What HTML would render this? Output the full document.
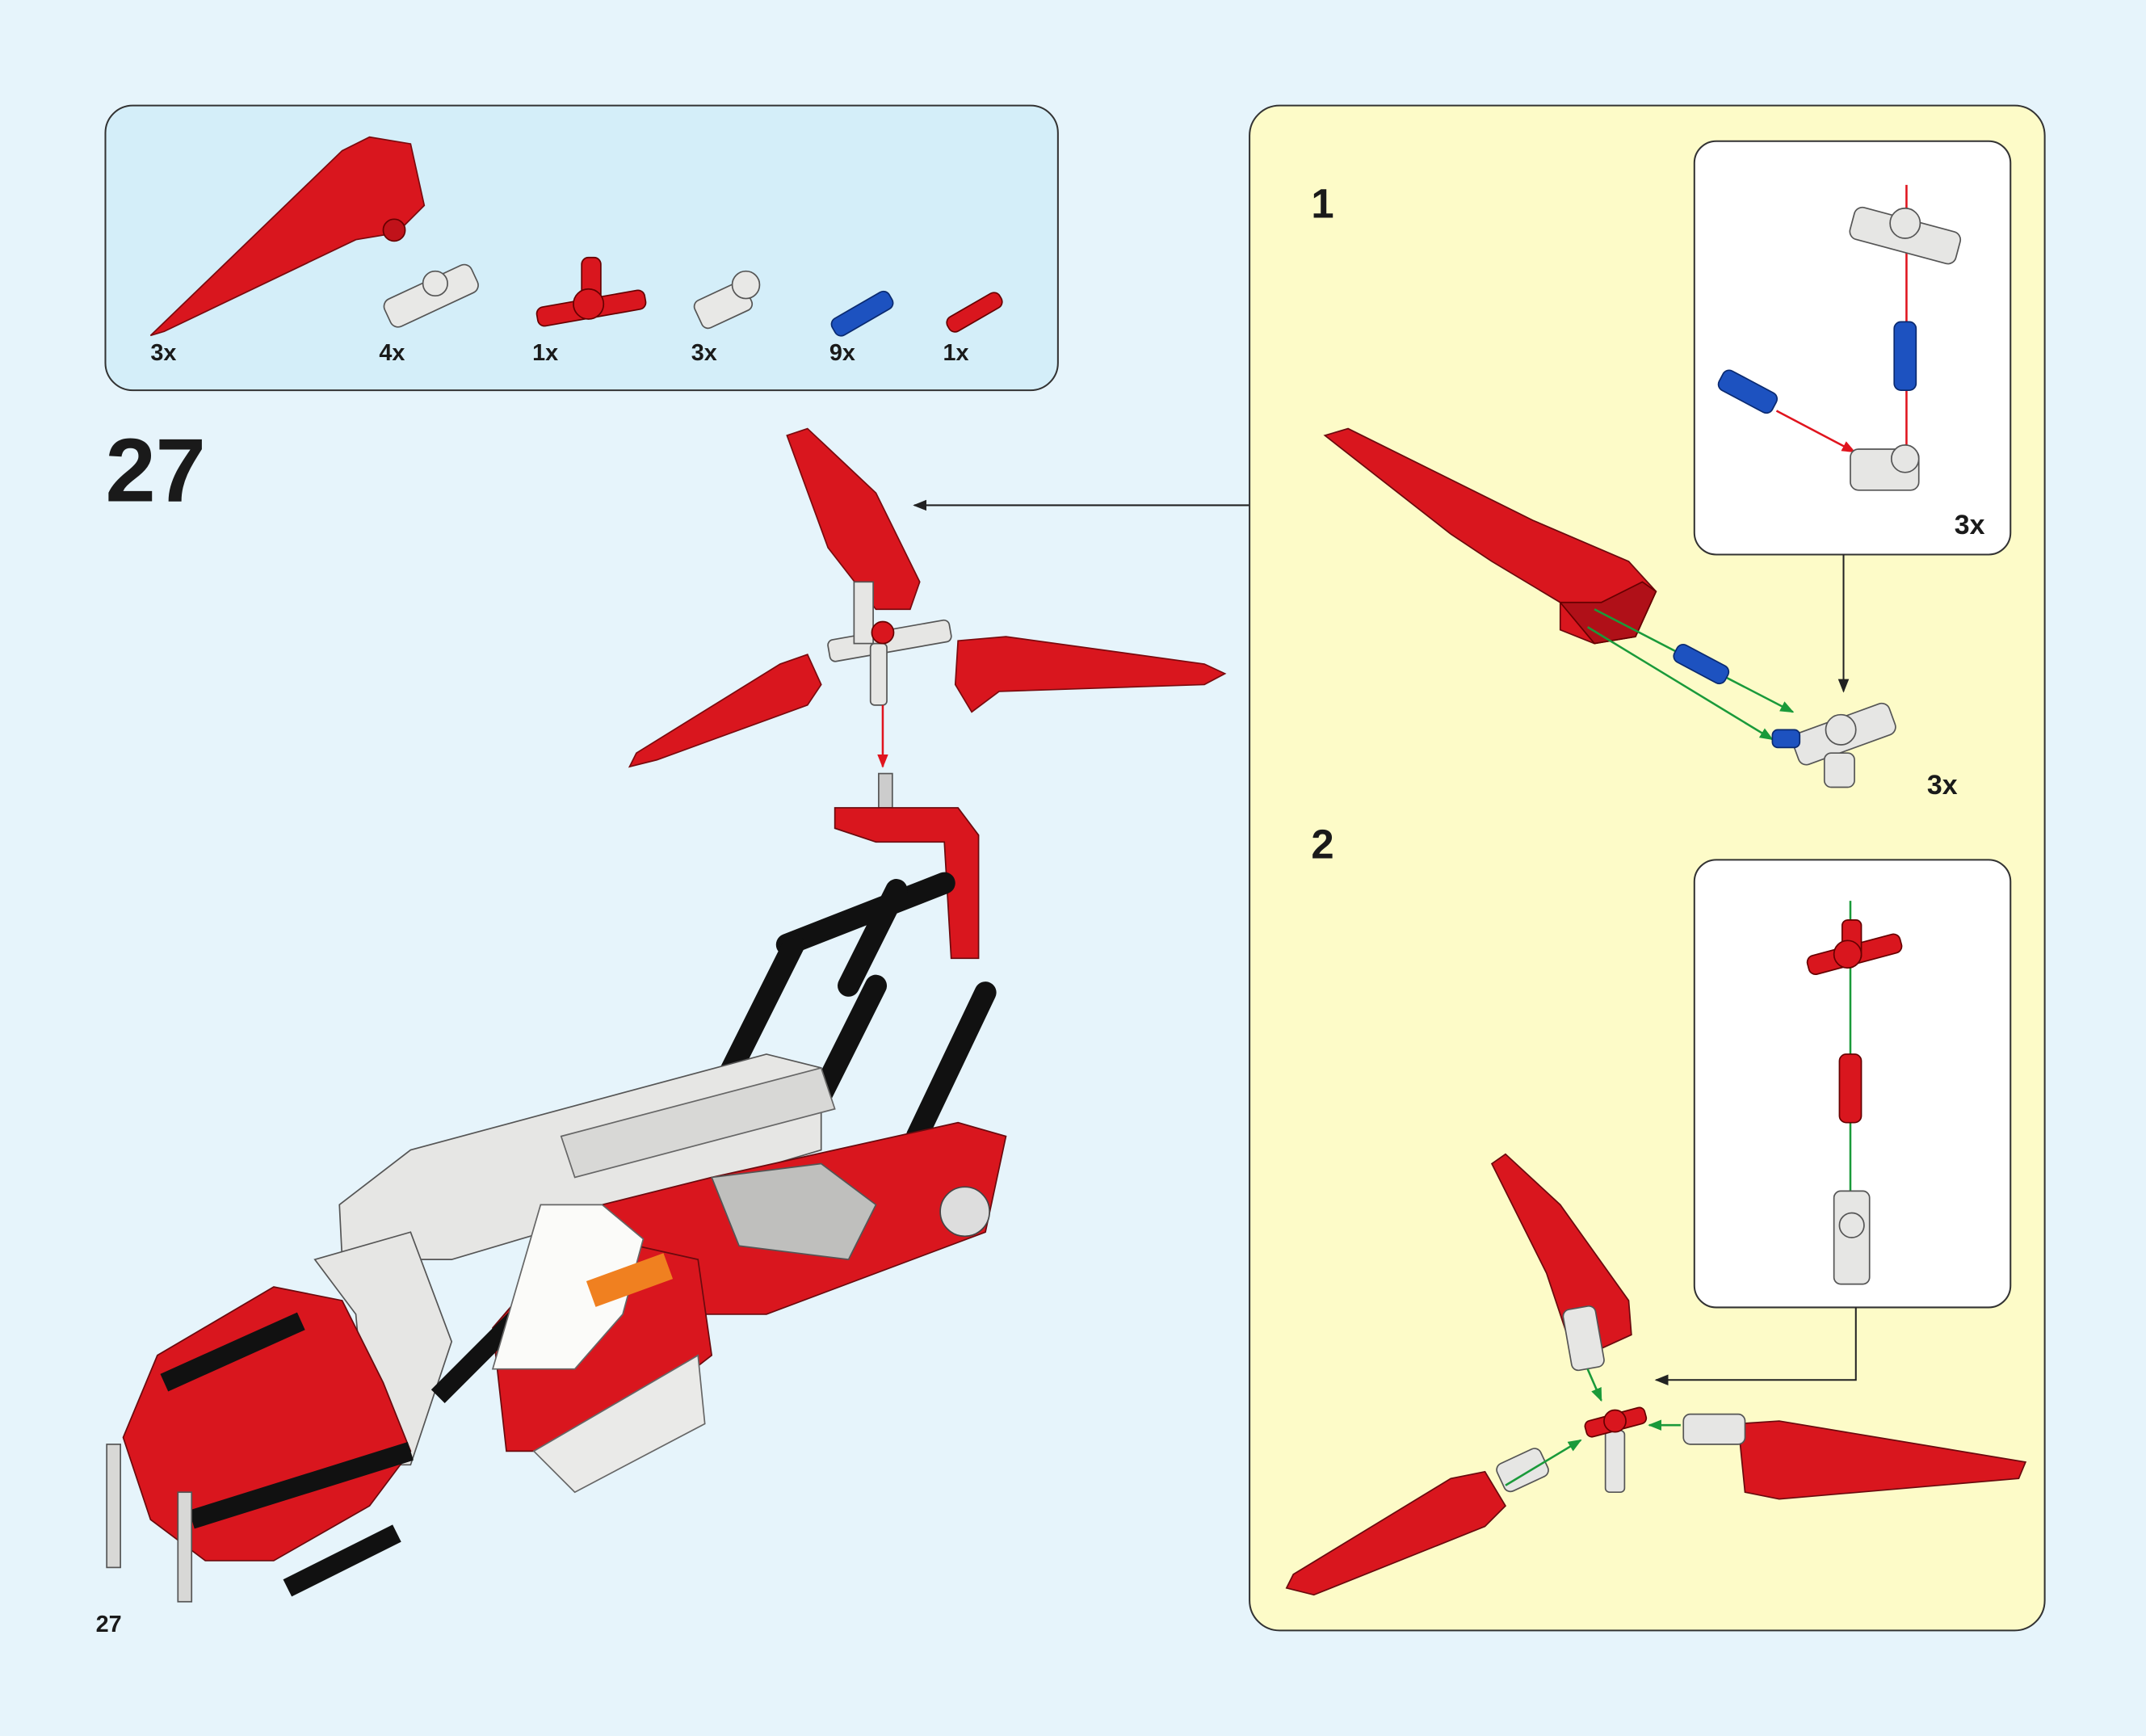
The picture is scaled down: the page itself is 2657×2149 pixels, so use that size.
<!DOCTYPE html>
<html><head><meta charset="utf-8"><style>
html,body{margin:0;padding:0;background:#e6f4fb;}
svg{display:block}
text{font-family:"Liberation Sans",sans-serif;font-weight:bold;fill:#1a1a1a}
</style></head><body>
<svg width="2657" height="2149" viewBox="0 0 1568 1268" xmlns="http://www.w3.org/2000/svg">
<defs>
<marker id="ab" markerWidth="10" markerHeight="8" refX="9" refY="4" orient="auto" markerUnits="userSpaceOnUse"><path d="M0,0 L10,4 L0,8 z" fill="#222"/></marker>
<marker id="ar" markerWidth="10" markerHeight="8" refX="9" refY="4" orient="auto" markerUnits="userSpaceOnUse"><path d="M0,0 L10,4 L0,8 z" fill="#e0141e"/></marker>
<marker id="ag" markerWidth="10" markerHeight="8" refX="9" refY="4" orient="auto" markerUnits="userSpaceOnUse"><path d="M0,0 L10,4 L0,8 z" fill="#1a9a3a"/></marker>
</defs>
<rect width="1568" height="1268" fill="#e6f4fb"/>
<!-- parts box -->
<rect x="77" y="77" width="696" height="208" rx="20" fill="#d4eef9" stroke="#333" stroke-width="1.2"/>
<polygon points="110,245 250,110 270,100 300,105 310,150 290,170 260,175 120,242" fill="#d9161e" stroke="#7a0a0e" stroke-width="1"/>
<circle cx="288" cy="168" r="8" fill="#c0121a" stroke="#600" />
<g fill="#e8e8e6" stroke="#555" stroke-width="1"><rect x="280" y="205" width="70" height="22" rx="6" transform="rotate(-25 315 216)"/><circle cx="318" cy="207" r="9"/></g>
<g fill="#d9161e" stroke="#600"><rect x="392" y="218" width="80" height="14" rx="5" transform="rotate(-10 432 225)"/><rect x="425" y="188" width="14" height="40" rx="5"/><circle cx="430" cy="222" r="11"/></g>
<g fill="#e8e8e6" stroke="#555"><rect x="508" y="212" width="40" height="22" rx="5" transform="rotate(-25 528 222)"/><circle cx="545" cy="208" r="10"/></g>
<rect x="606" y="222" width="48" height="14" rx="5" fill="#1d52c0" stroke="#0a2a70" transform="rotate(-30 630 229)"/>
<rect x="690" y="222" width="44" height="12" rx="5" fill="#d9161e" stroke="#600" transform="rotate(-30 712 228)"/>
<g font-size="17"><text x="110" y="263">3x</text><text x="277" y="263">4x</text><text x="389" y="263">1x</text><text x="505" y="263">3x</text><text x="606" y="263">9x</text><text x="689" y="263">1x</text></g>
<text x="77" y="366" font-size="66">27</text>
<text x="70" y="1192" font-size="17">27</text>
<!-- arrow to model -->
<line x1="913" y1="369" x2="668" y2="369" stroke="#222" stroke-width="1.2" marker-end="url(#ab)"/>
<!-- rotor in main -->
<polygon points="575,318 590,313 640,360 672,425 665,445 640,445 605,400" fill="#d9161e" stroke="#7a0a0e"/>
<polygon points="460,560 465,550 570,485 590,478 600,500 590,515 480,555" fill="#d9161e" stroke="#7a0a0e"/>
<polygon points="700,468 735,465 880,485 895,492 880,500 730,505 710,520 698,500" fill="#d9161e" stroke="#7a0a0e"/>
<g fill="#e6e6e4" stroke="#555"><rect x="605" y="460" width="90" height="16" rx="4" transform="rotate(-10 650 468)"/><rect x="636" y="470" width="12" height="45" rx="3"/><rect x="624" y="425" width="14" height="45"/></g>
<circle cx="645" cy="462" r="8" fill="#d9161e" stroke="#600"/>
<line x1="645" y1="515" x2="645" y2="560" stroke="#e0141e" stroke-width="1.5" marker-end="url(#ar)"/>
<!-- main model body approx -->
<rect x="642" y="565" width="10" height="25" fill="#ccc" stroke="#555"/>
<polygon points="610,590 700,590 715,610 715,700 695,700 690,615 640,615 610,605" fill="#d9161e" stroke="#6a0a0e"/>
<g stroke="#111" stroke-width="16" fill="none" stroke-linecap="round">
<path d="M575,690 L690,645"/><path d="M580,690 L530,790"/><path d="M640,720 L600,800"/><path d="M720,725 L670,830"/><path d="M655,650 L620,720"/></g>
<polygon points="248,880 300,840 560,770 600,780 600,840 330,920 250,920" fill="#e6e6e4" stroke="#555"/>
<polygon points="410,830 600,780 610,810 420,860" fill="#d8d8d6" stroke="#666"/>
<polygon points="440,880 520,860 700,820 735,830 720,900 560,960 450,960" fill="#d9161e" stroke="#6a0a0e"/>
<polygon points="520,860 600,850 640,880 620,920 540,910" fill="#bfbfbd" stroke="#555"/>
<circle cx="705" cy="885" r="18" fill="#ddd" stroke="#444"/>
<polygon points="360,970 420,900 510,920 520,990 430,1060 370,1060" fill="#d9161e" stroke="#6a0a0e"/>
<polygon points="390,1060 510,990 515,1040 420,1090" fill="#eaeae8" stroke="#666"/>
<polygon points="230,920 300,900 330,980 300,1070 270,1070 260,960" fill="#e6e6e4" stroke="#555"/>
<polygon points="90,1050 115,990 200,940 250,950 280,1010 300,1060 270,1100 200,1140 150,1140 110,1110" fill="#d9161e" stroke="#6a0a0e"/>
<g stroke="#111" stroke-width="14" fill="none"><path d="M120,1010 L220,965"/><path d="M140,1110 L300,1060"/><path d="M210,1160 L290,1120"/><path d="M320,1020 L420,920"/></g>
<polygon points="395,880 440,880 470,905 455,960 420,1000 360,1000" fill="#fbfbf9" stroke="#666"/>
<rect x="430" y="925" width="60" height="20" fill="#f08020" transform="rotate(-20 460 935)"/>
<g fill="#d8d8d6" stroke="#555"><rect x="78" y="1055" width="10" height="90"/><rect x="130" y="1090" width="10" height="80"/></g>
<!-- yellow panel -->
<rect x="913" y="77" width="581" height="1114" rx="22" fill="#fdfbc8" stroke="#333" stroke-width="1.2"/>
<text x="958" y="159" font-size="30">1</text>
<text x="958" y="627" font-size="30">2</text>
<!-- step1 blade -->
<polygon points="968,318 985,313 1120,380 1190,410 1210,432 1195,465 1165,470 1140,460 1140,440 1090,410 1060,390" fill="#d9161e" stroke="#6a0a0e"/>
<polygon points="1140,440 1165,470 1195,465 1210,432 1200,425 1170,440" fill="#b01018" stroke="#600"/>
<line x1="1165" y1="445" x2="1310" y2="520" stroke="#1a9a3a" stroke-width="1.5" marker-end="url(#ag)"/>
<line x1="1160" y1="458" x2="1295" y2="540" stroke="#1a9a3a" stroke-width="1.5" marker-end="url(#ag)"/>
<rect x="1222" y="478" width="42" height="14" rx="5" fill="#1d52c0" stroke="#0a2a70" transform="rotate(28 1243 485)"/>
<g fill="#e6e6e4" stroke="#555"><rect x="1310" y="525" width="75" height="24" rx="6" transform="rotate(-20 1345 537)"/><circle cx="1345" cy="533" r="11"/><rect x="1333" y="550" width="22" height="25" rx="5"/></g>
<rect x="1295" y="533" width="20" height="13" rx="4" fill="#1d52c0" stroke="#0a2a70"/>
<text x="1408" y="580" font-size="20">3x</text>
<!-- box1 -->
<rect x="1238" y="103" width="231" height="302" rx="16" fill="#fff" stroke="#333" stroke-width="1.2"/>
<line x1="1393" y1="135" x2="1393" y2="340" stroke="#e0141e" stroke-width="1.5" marker-end="url(#ar)"/>
<g fill="#e6e6e4" stroke="#555"><rect x="1352" y="160" width="80" height="24" rx="6" transform="rotate(15 1392 172)"/><circle cx="1392" cy="163" r="11"/></g>
<rect x="1384" y="235" width="16" height="50" rx="5" fill="#1d52c0" stroke="#0a2a70"/>
<rect x="1255" y="278" width="44" height="16" rx="5" fill="#1d52c0" stroke="#0a2a70" transform="rotate(28 1277 286)"/>
<line x1="1298" y1="300" x2="1355" y2="330" stroke="#e0141e" stroke-width="1.5" marker-end="url(#ar)"/>
<g fill="#e6e6e4" stroke="#555"><rect x="1352" y="328" width="50" height="30" rx="6"/><circle cx="1392" cy="335" r="10"/></g>
<text x="1428" y="390" font-size="20">3x</text>
<line x1="1347" y1="405" x2="1347" y2="505" stroke="#222" stroke-width="1.2" marker-end="url(#ab)"/>
<!-- box2 -->
<rect x="1238" y="628" width="231" height="327" rx="16" fill="#fff" stroke="#333" stroke-width="1.2"/>
<line x1="1352" y1="658" x2="1352" y2="885" stroke="#1a9a3a" stroke-width="1.5" marker-end="url(#ag)"/>
<g fill="#d9161e" stroke="#600"><rect x="1320" y="690" width="70" height="14" rx="5" transform="rotate(-15 1355 697)"/><rect x="1346" y="672" width="14" height="30" rx="4"/><circle cx="1350" cy="697" r="10"/></g>
<rect x="1344" y="770" width="16" height="50" rx="5" fill="#d9161e" stroke="#600"/>
<g fill="#e6e6e4" stroke="#555"><rect x="1340" y="870" width="26" height="68" rx="5"/><circle cx="1353" cy="895" r="9"/></g>
<polyline points="1356,955 1356,1008 1210,1008" fill="none" stroke="#222" stroke-width="1.2" marker-end="url(#ab)"/>
<!-- step2 -->
<polygon points="1090,850 1100,843 1140,880 1190,950 1192,975 1170,985 1145,975 1130,930" fill="#d9161e" stroke="#6a0a0e"/>
<polygon points="940,1160 945,1150 1060,1080 1085,1075 1100,1100 1085,1115 960,1165" fill="#d9161e" stroke="#6a0a0e"/>
<polygon points="1270,1040 1300,1038 1480,1068 1475,1080 1300,1095 1275,1090" fill="#d9161e" stroke="#6a0a0e"/>
<g fill="#e6e6e4" stroke="#555"><rect x="1145" y="955" width="24" height="45" rx="5" transform="rotate(-10 1157 977)"/><rect x="1230" y="1033" width="45" height="22" rx="5"/><rect x="1095" y="1063" width="35" height="22" rx="5" transform="rotate(-25 1112 1074)"/><rect x="1173" y="1045" width="14" height="45" rx="3"/></g>
<line x1="1160" y1="1000" x2="1170" y2="1023" stroke="#1a9a3a" stroke-width="1.5" marker-end="url(#ag)"/>
<line x1="1228" y1="1041" x2="1205" y2="1041" stroke="#1a9a3a" stroke-width="1.5" marker-end="url(#ag)"/>
<line x1="1100" y1="1085" x2="1155" y2="1052" stroke="#1a9a3a" stroke-width="1.5" marker-end="url(#ag)"/>
<g fill="#d9161e" stroke="#600"><rect x="1158" y="1033" width="45" height="12" rx="4" transform="rotate(-15 1180 1039)"/><circle cx="1180" cy="1038" r="8"/></g>
</svg>
</body></html>
